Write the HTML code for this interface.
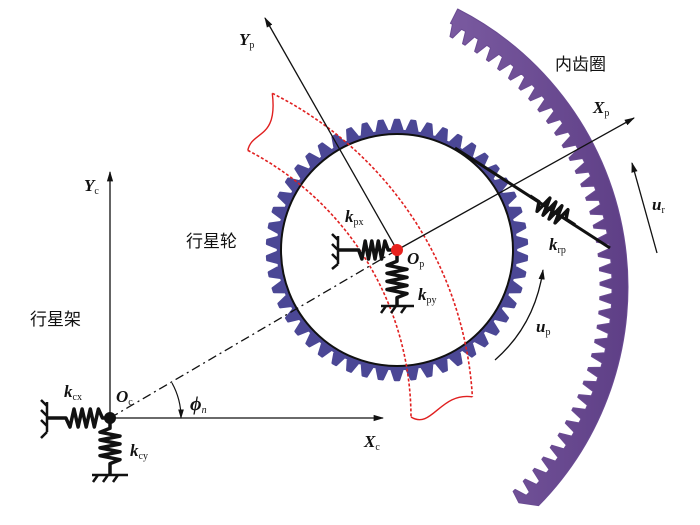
<!DOCTYPE html>
<html><head><meta charset="utf-8">
<style>
html,body{margin:0;padding:0;background:#fff;}
svg{display:block;}
text{font-family:"Liberation Serif","Noto Serif CJK SC",serif;fill:#111;}
.cn{font-family:"Liberation Sans","Noto Sans CJK SC",sans-serif;font-size:17px;}
.it{font-style:italic;font-weight:bold;font-size:17px;}
.sub{font-size:10px;font-style:normal;font-weight:normal;}
</style></head>
<body>
<svg id="s" width="700" height="525" viewBox="0 0 700 525" xmlns="http://www.w3.org/2000/svg">
<defs>
<marker id="ar" viewBox="0 0 10 10" refX="9" refY="5" markerWidth="8" markerHeight="8" orient="auto"><path d="M0,2 L10,5 L0,8 Z" fill="#111"/></marker>
<linearGradient id="rg" x1="0" y1="0" x2="1" y2="0"><stop offset="0" stop-color="#7a5aa0"/><stop offset="1" stop-color="#5e3f86"/></linearGradient>
</defs>
<g id="ring"></g>
<g id="planet"></g>
<circle cx="397" cy="250" r="116" fill="#fff" stroke="#111" stroke-width="2"/>
<g id="red"></g>
<line x1="110" y1="418" x2="110" y2="172" stroke="#111" stroke-width="1.3" marker-end="url(#ar)"/>
<line x1="110" y1="418" x2="383" y2="418" stroke="#111" stroke-width="1.3" marker-end="url(#ar)"/>
<line x1="110" y1="418" x2="397" y2="250" stroke="#111" stroke-width="1.3" stroke-dasharray="9,4,2,4"/>
<line x1="397" y1="250" x2="265" y2="18" stroke="#111" stroke-width="1.3" marker-end="url(#ar)"/>
<line x1="397" y1="250" x2="634" y2="118" stroke="#111" stroke-width="1.3" marker-end="url(#ar)"/>
<path d="M172,383 A72,72 0 0 1 181,418" fill="none" stroke="#111" stroke-width="1.2" marker-end="url(#ar)"/>
<line x1="455" y1="148" x2="610" y2="248" stroke="#111" stroke-width="3"/>
<g id="springs" stroke="#111" stroke-width="3.5" fill="none" stroke-linejoin="round"></g>
<circle cx="397" cy="250" r="6" fill="#e8221e"/>
<circle cx="110" cy="418" r="6" fill="#111"/>
<path d="M495,360 Q535,325 543,270" fill="none" stroke="#111" stroke-width="1.3" marker-end="url(#ar)"/>
<line x1="657" y1="253" x2="632" y2="163" stroke="#111" stroke-width="1.3" marker-end="url(#ar)"/>
<text x="555" y="70" class="cn">内齿圈</text>
<text x="186" y="247" class="cn">行星轮</text>
<text x="30" y="325" class="cn">行星架</text>
<text x="239" y="45" class="it">Y<tspan class="sub" dy="3">p</tspan></text>
<text x="593" y="113" class="it">X<tspan class="sub" dy="3">p</tspan></text>
<text x="652" y="210" class="it">u<tspan class="sub" dy="3">r</tspan></text>
<text x="549" y="250" class="it">k<tspan class="sub" dy="3">rp</tspan></text>
<text x="536" y="332" class="it">u<tspan class="sub" dy="3">p</tspan></text>
<text x="345" y="222" class="it">k<tspan class="sub" dy="3">px</tspan></text>
<text x="407" y="264" class="it">O<tspan class="sub" dy="3">p</tspan></text>
<text x="418" y="300" class="it">k<tspan class="sub" dy="3">py</tspan></text>
<text x="84" y="191" class="it">Y<tspan class="sub" dy="3">c</tspan></text>
<text x="116" y="402" class="it">O<tspan class="sub" dy="3">c</tspan></text>
<text x="64" y="397" class="it">k<tspan class="sub" dy="3">cx</tspan></text>
<text x="130" y="456" class="it">k<tspan class="sub" dy="3">cy</tspan></text>
<text x="364" y="447" class="it">X<tspan class="sub" dy="3">c</tspan></text>
<text x="190" y="410" class="it" style="font-size:20px">ϕ<tspan class="sub" dy="3" style="font-style:italic">n</tspan></text>
</svg>
<script>
var NS="http://www.w3.org/2000/svg";
function el(p,t,a){var e=document.createElementNS(NS,t);for(var k in a)e.setAttribute(k,a[k]);document.getElementById(p).appendChild(e);return e;}
function P(cx,cy,r,a){return [cx+r*Math.cos(a),cy+r*Math.sin(a)];}
(function(){var cx=397,cy=250,N=50,rr=119,ro=130,d="";
for(var i=0;i<N;i++){var a0=i*2*Math.PI/N,s=2*Math.PI/N;
var pts=[P(cx,cy,rr,a0),P(cx,cy,rr,a0+s*0.12),P(cx,cy,ro,a0+s*0.38),P(cx,cy,ro,a0+s*0.62),P(cx,cy,rr,a0+s*0.88)];
pts.forEach(function(p,j){d+=(i==0&&j==0?"M":"L")+p[0].toFixed(1)+","+p[1].toFixed(1);});}
d+="Z";el("planet","path",{d:d,fill:"#4b4795","stroke":"#4b4795","stroke-linejoin":"round","stroke-width":"2.5"});})();
(function(){var cx=316,cy=287,R=312,rb=296,rt=284,a1=-63*Math.PI/180,a2=44.5*Math.PI/180,s=2.9*Math.PI/180,d="";
var o=P(cx,cy,R,a1);d="M"+o[0]+","+o[1]+" A"+R+","+R+" 0 0 1 "+P(cx,cy,R,a2).join(",");
var n=Math.floor((a2-a1)/s);
for(var i=n;i>=0;i--){var a=a1+i*s;
[P(cx,cy,rb,a+s*0.85),P(cx,cy,rt,a+s*0.6),P(cx,cy,rt,a+s*0.4),P(cx,cy,rb,a+s*0.15),P(cx,cy,rb,a)].forEach(function(p){d+=" L"+p[0].toFixed(1)+","+p[1].toFixed(1);});}
d+="Z";el("ring","path",{d:d,fill:"url(#rg)",stroke:"#6a4b92","stroke-width":"1","stroke-linejoin":"round"});})();
(function(){var cx=110,cy=418,r1=301,r2=363,aA=Math.atan2(150-418,248-110),aB=Math.atan2(417-418,412-110);
var A1=P(cx,cy,r1,aA),B1=P(cx,cy,r1,aB),A2=P(cx,cy,r2,aA-0.012),B2=P(cx,cy,r2,aB-0.055);
el("red","path",{d:"M"+A1+" A"+r1+","+r1+" 0 0 1 "+B1,fill:"none",stroke:"#e02020","stroke-width":"1.6","stroke-dasharray":"3,2"});
el("red","path",{d:"M"+A2+" A"+r2+","+r2+" 0 0 1 "+B2,fill:"none",stroke:"#e02020","stroke-width":"1.6","stroke-dasharray":"3,2"});
el("red","path",{d:"M"+A1+" C252,130 278,140 "+A2,fill:"none",stroke:"#e02020","stroke-width":"1.4"});
el("red","path",{d:"M"+B1+" C432,430 440,392 "+B2,fill:"none",stroke:"#e02020","stroke-width":"1.4"});})();
function spring(x1,y1,x2,y2,l0,l1,n,w){var dx=x2-x1,dy=y2-y1,L=Math.hypot(dx,dy),ux=dx/L,uy=dy/L,nx=-uy,ny=ux;
var d="M"+x1+","+y1;var sA=L*l0,sB=L*l1;d+=" L"+(x1+ux*sA)+","+(y1+uy*sA);
for(var i=1;i<=2*n;i++){var t=sA+(sB-sA)*i/(2*n+1);var side=(i%2?1:-1)*w;d+=" L"+(x1+ux*t+nx*side).toFixed(1)+","+(y1+uy*t+ny*side).toFixed(1);}
d+=" L"+(x1+ux*sB)+","+(y1+uy*sB)+" L"+x2+","+y2;el("springs","path",{d:d});}
spring(338,250,397,250,0.35,0.85,4,9);
spring(397,250,397,306,0.2,0.85,4,10);
spring(47,418,110,418,0.3,0.88,4,9);
spring(110,418,110,475,0.18,0.8,4,10);
spring(530,196,575,225,0.2,0.8,4,9);
el("springs","path",{d:"M338,236 V264 M338,240 l-6,-6 M338,250 l-6,-6 M338,260 l-6,-6 M338,264 l-6,5",style:"stroke-width:2.5"});
el("springs","path",{d:"M381,306 H414 M386,306 l-5,7 M396,306 l-5,7 M406,306 l-5,7",style:"stroke-width:2.5"});
el("springs","path",{d:"M47,402 V432 M47,406 l-6,-6 M47,416 l-6,-6 M47,426 l-6,-6 M47,432 l-6,6",style:"stroke-width:2.5"});
el("springs","path",{d:"M92,475 H128 M98,475 l-5,7 M108,475 l-5,7 M118,475 l-5,7",style:"stroke-width:2.5"});
</script>
</body></html>
